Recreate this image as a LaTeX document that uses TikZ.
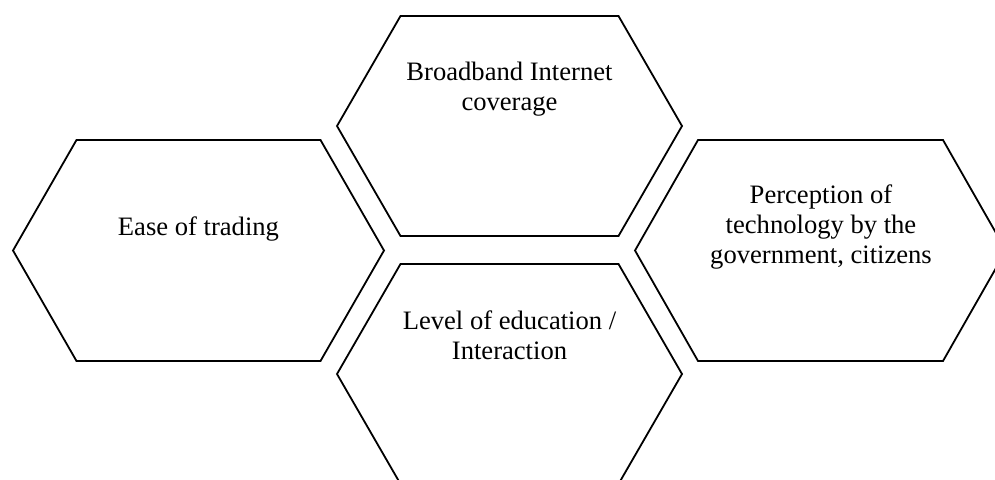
\documentclass[tikz,border=0pt]{standalone}
\usepackage{fontspec}
\setmainfont{Liberation Serif}
\newcommand\HexPath[5]{%
  \draw[hexline] (#1-#3,#2) -- (#1-#4,#2-#5) -- (#1+#4,#2-#5) -- (#1+#3,#2)
    -- (#1+#4,#2+#5) -- (#1-#4,#2+#5) -- cycle;}
\begin{document}
\begin{tikzpicture}[x=1pt,y=-1pt,
  hexline/.style={draw=black,line width=1.8pt,line join=miter},
  lbl/.style={inner sep=0pt,align=center,anchor=base,font=\fontsize{26.6}{30}\selectfont}]
\useasboundingbox (0,0) rectangle (995,479);
\clip (0,0) rectangle (995,479);
\HexPath{509.5}{126}{172.5}{109}{110}
\HexPath{198.5}{250.5}{185.5}{122}{110.5}
\HexPath{820.5}{250.5}{185.5}{122.5}{110.5}
\HexPath{509.5}{374}{172.5}{109}{110}
\node[lbl] (bb) at (509.5,110) {Broadband Internet\\coverage};
\node[lbl] (et) at (198.5,235) {Ease of trading};
\node[lbl] (pt) at (821,263) {Perception of\\technology by the\\government, citizens};
\node[lbl] (le) at (509.5,359) {Level of education /\\Interaction};
\end{tikzpicture}
\end{document}
